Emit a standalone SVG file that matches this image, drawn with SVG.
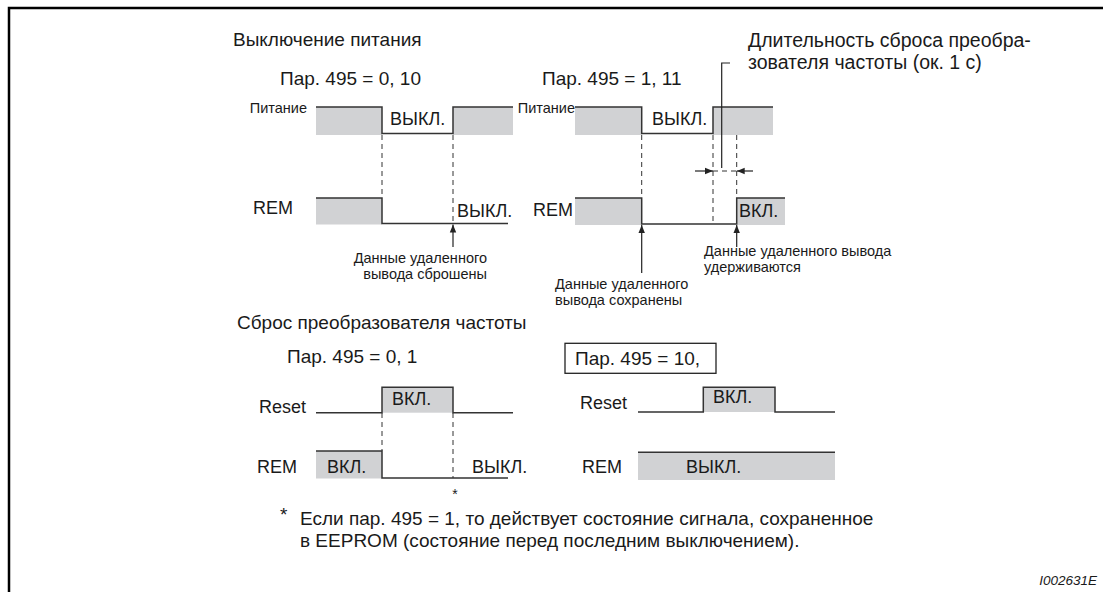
<svg xmlns="http://www.w3.org/2000/svg" width="1103" height="592" viewBox="0 0 1103 592">
<defs>
<style>
text{font-family:"Liberation Sans",Arial,sans-serif;fill:#1a1a1a}
.h{font-size:19px}
.m{font-size:18px}
.s{font-size:14.5px}
.g{fill:#d1d2d4;stroke:none}
.sig{fill:none;stroke:#333;stroke-width:1.5}
.d{fill:none;stroke:#333;stroke-width:1;stroke-dasharray:5,4}
.ln{fill:none;stroke:#222;stroke-width:1.2}
</style>
<marker id="ah" viewBox="0 0 10 10" refX="10" refY="5" markerWidth="8" markerHeight="8" markerUnits="userSpaceOnUse" orient="auto">
<path d="M0,1 L10,5 L0,9 Z" fill="#222"/>
</marker>
</defs>
<rect width="1103" height="592" fill="#fff"/>
<path d="M9,592 V8 H1103" fill="none" stroke="#000" stroke-width="2.5"/>

<g id="title-off">
<text class="h" x="233" y="46">Выключение питания</text>
</g>

<g id="power-off-0-10">
<text class="h" x="280" y="85">Пар. 495 = 0, 10</text>
<text class="s" x="307" y="113" text-anchor="end">Питание</text>
<rect class="g" x="316" y="107" width="66" height="28"/>
<rect class="g" x="453" y="107" width="60" height="28"/>
<path class="sig" d="M316,107 H382 V133.5 H453 V107 H513"/>
<text class="m" x="390" y="125">ВЫКЛ.</text>
<text class="m" x="253" y="214">REM</text>
<rect class="g" x="316" y="198" width="66" height="26.5"/>
<path class="sig" d="M316,198 H382 V223.5 H508"/>
<text class="m" x="457" y="217">ВЫКЛ.</text>
<text class="s" x="487" y="263" text-anchor="end">Данные удаленного</text>
<text class="s" x="487" y="279" text-anchor="end">вывода сброшены</text>
</g>

<g id="power-off-1-11">
<text class="h" x="542" y="85">Пар. 495 = 1, 11</text>
<text class="s" x="575" y="113" text-anchor="end">Питание</text>
<rect class="g" x="575" y="107" width="66.7" height="28"/>
<rect class="g" x="713" y="107" width="60" height="28"/>
<path class="sig" d="M575,107 H641.7 V133.5 H713 V107 H773"/>
<text class="m" x="652" y="125">ВЫКЛ.</text>
<text class="m" x="533" y="216">REM</text>
<rect class="g" x="575" y="198" width="66.7" height="27"/>
<rect class="g" x="736.7" y="198" width="48.3" height="27"/>
<path class="sig" d="M575,198 H641.7 V224 H736.7 V198 H785"/>
<text class="m" x="739" y="217">ВКЛ.</text>
<text class="s" x="555" y="289">Данные удаленного</text>
<text class="s" x="555" y="305">вывода сохранены</text>
<text class="s" x="704" y="256">Данные удаленного вывода</text>
<text class="s" x="704" y="272">удерживаются</text>
</g>

<g id="reset-duration">
<text class="h" x="748" y="47" style="font-size:19.5px">Длительность сброса преобра-</text>
<text class="h" x="748" y="69" style="font-size:19.5px">зователя частоты (ок. 1 с)</text>
</g>

<g id="title-reset">
<text class="h" x="237" y="329">Сброс преобразователя частоты</text>
</g>

<g id="reset-0-1">
<text class="h" x="287" y="363">Пар. 495 = 0, 1</text>
<text class="m" x="259" y="413">Reset</text>
<rect class="g" x="382" y="387.3" width="71" height="25.4"/>
<path class="sig" d="M316,412.7 H382 V387.3 H453 V412.7 H513"/>
<text class="m" x="392" y="405">ВКЛ.</text>
<text class="m" x="257" y="473">REM</text>
<rect class="g" x="316" y="451" width="66" height="27.5"/>
<path class="sig" d="M316,451 H382 V478 H508"/>
<text class="m" x="327" y="473">ВКЛ.</text>
<text class="m" x="472" y="473">ВЫКЛ.</text>
<text x="455" y="499" text-anchor="middle" style="font-size:14px">*</text>
</g>

<g id="reset-10">
<rect x="565" y="343.3" width="151" height="30" fill="none" stroke="#222" stroke-width="1.3"/>
<text class="h" x="575" y="365">Пар. 495 = 10,</text>
<text class="m" x="580" y="409">Reset</text>
<rect class="g" x="703.3" y="387.3" width="71.7" height="24.7"/>
<path class="sig" d="M638,412 H703.3 V387.3 H775 V412 H835"/>
<text class="m" x="713" y="403">ВКЛ.</text>
<text class="m" x="582" y="473">REM</text>
<rect class="g" x="638" y="452.3" width="197" height="27.7"/>
<path class="sig" d="M638,452.3 H835"/>
<text class="m" x="686" y="473">ВЫКЛ.</text>
</g>

<g id="footnote">
<text class="h" x="280" y="521">*</text>
<text class="h" x="300" y="525">Если пар. 495 = 1, то действует состояние сигнала, сохраненное</text>
<text class="h" x="300" y="547">в EEPROM (состояние перед последним выключением).</text>
</g>

<g id="figure-id">
<text x="1097" y="585" text-anchor="end" style="font-size:13.5px;font-style:italic">I002631E</text>
</g>

<g id="connectors">
<path class="d" d="M382,135 V198 M453,135 V223.5"/>
<path class="d" d="M641.7,135 V198 M713,135 V224 M736.7,135 V198 M713,171 H736.7"/>
<path class="d" d="M382,413 V451 M453,413 V478"/>
<path class="ln" d="M453,247 V224.5" marker-end="url(#ah)"/>
<path class="ln" d="M641.7,273 V225" marker-end="url(#ah)"/>
<path class="ln" d="M736.7,247 V225" marker-end="url(#ah)"/>
<path class="ln" d="M695,171 H713" marker-end="url(#ah)"/>
<path class="ln" d="M753,171 H736.7" marker-end="url(#ah)"/>
<path class="ln" d="M730,63 H721.7 V168"/>
</g>
</svg>
